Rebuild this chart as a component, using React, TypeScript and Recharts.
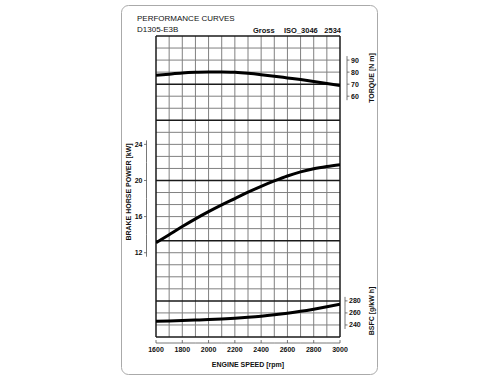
import React from 'react';
import { ComposedChart, Line, XAxis, YAxis, ReferenceLine } from 'recharts';

// engine speed samples [rpm]
const rpm = [1600, 1700, 1800, 1900, 2000, 2100, 2200, 2300, 2400, 2500, 2600, 2700, 2800, 2900, 3000];
// torque [N m]
const torque = [77.3, 78.3, 79.2, 79.8, 80.2, 80.2, 79.8, 79.0, 77.9, 76.6, 75.2, 73.8, 72.3, 70.6, 68.8];
// brake horse power [kW]
const power = [13.1, 14.0, 14.9, 15.75, 16.55, 17.3, 18.0, 18.7, 19.35, 19.95, 20.5, 20.95, 21.3, 21.55, 21.75];
// BSFC [g/kW h]
const bsfc = [246.2, 246.7, 247.3, 248.1, 249.0, 250.0, 251.2, 252.7, 254.5, 256.8, 259.5, 262.6, 266.2, 270.2, 274.5];

const rpmTicks = [1600, 1800, 2000, 2200, 2400, 2600, 2800, 3000];
const torqueTicks = [60, 70, 80, 90];
const powerTicks = [12, 16, 20, 24];
const bsfcTicks = [240, 260, 280];

// graph paper: one column per 100 rpm, 25 rows
const gridCols = [1600, 1700, 1800, 1900, 2000, 2100, 2200, 2300, 2400, 2500, 2600, 2700, 2800, 2900, 3000];
const gridRows = [0, 1, 2, 3, 4, 5, 6, 7, 8, 9, 10, 11, 12, 13, 14, 15, 16, 17, 18, 19, 20, 21, 22, 23, 24, 25];
const heavyRows = [0, 3, 8, 13, 18, 21, 25];
const heavyCols = [1600, 3000];

const data = rpm.map((r, i) => ({ rpm: r, torque: torque[i], power: power[i], bsfc: bsfc[i] }));

const FONT = '"Liberation Sans", Arial, sans-serif';
// axes get 1px each (a 0px axis is not drawn at all)
const MARGIN = { top: 36, right: 158, bottom: 46, left: 155 };
const PLOT_W = 184;
const PLOT_H = 301;
const CELL = PLOT_H / (gridRows.length - 1);
const INK = '#111';

// short bracket-style axis drawn next to the grid, one piece per tick
const sideTick = (side: 'left' | 'right', cells: number, shift = 0) => (props: any) => {
  const { x, y, payload, index, visibleTicksCount } = props;
  const half = (CELL * cells) / 2;
  const dir = side === 'right' ? 1 : -1;
  const lx = x + shift + dir * (side === 'right' ? 6 : 9.5);
  const bottom = index === 0 ? y + 4 : y + half;
  const top = index === visibleTicksCount - 1 ? y - 4 : y - half;
  return (
    <g>
      <line x1={lx} x2={lx} y1={bottom} y2={top} stroke="#555" strokeWidth={0.8} />
      <line x1={lx} x2={lx + dir * 2.5} y1={y} y2={y} stroke="#555" strokeWidth={0.8} />
      <text
        x={lx + dir * 4}
        y={y}
        dy="0.35em"
        textAnchor={side === 'right' ? 'start' : 'end'}
        fontSize={7}
        fontWeight="bold"
        fontFamily={FONT}
        fill={INK}
      >
        {payload.value}
      </text>
    </g>
  );
};

const SpeedTick = (props: any) => {
  const { x, y, payload, index, visibleTicksCount } = props;
  const half = PLOT_W / (rpmTicks.length - 1) / 2;
  const ay = y + 6;
  return (
    <g>
      <line
        x1={index === 0 ? x : x - half}
        x2={index === visibleTicksCount - 1 ? x : x + half}
        y1={ay}
        y2={ay}
        stroke="#555"
        strokeWidth={0.8}
      />
      <line x1={x} x2={x} y1={ay - 3} y2={ay} stroke="#555" strokeWidth={0.8} />
      <text x={x} y={y + 14.5} textAnchor="middle" fontSize={7} fontWeight="bold" fontFamily={FONT} fill={INK}>
        {payload.value}
      </text>
    </g>
  );
};

const TorqueTick = sideTick('right', 1);
const BsfcTick = sideTick('right', 1, -1);
const PowerTick = sideTick('left', 3);

const axisCommon = {
  axisLine: false,
  tickLine: false,
  tickSize: 0,
  tickMargin: 0,
  interval: 0 as const,
  type: 'number' as const,
  allowDataOverflow: true,
};

export default function App() {
  return (
    <div style={{ position: 'absolute', left: 0, top: 0, width: 500, height: 384, background: '#fff' }}>
      <svg width={500} height={384} style={{ position: 'absolute', left: 0, top: 0 }}>
        <rect x={121.5} y={5.5} width={256} height={369} rx={7} fill="none" stroke="#aaa" strokeWidth={1} />
        <g fontFamily={FONT} fill="#111">
          <text x={137} y={21} fontSize={8}>PERFORMANCE CURVES</text>
          <text x={137} y={31.5} fontSize={8}>D1305-E3B</text>
          <text x={253} y={33} fontSize={7.5} fontWeight="bold">Gross</text>
          <text x={284} y={33} fontSize={7.5} fontWeight="bold">ISO_3046</text>
          <text x={341} y={33} fontSize={7.5} fontWeight="bold" textAnchor="end">2534</text>
          <text x={248} y={366.5} fontSize={7} fontWeight="bold" textAnchor="middle">ENGINE SPEED [rpm]</text>
          <text transform="translate(131,192) rotate(-90)" fontSize={7} fontWeight="bold" textAnchor="middle">
            BRAKE HORSE POWER [kW]
          </text>
          <text transform="translate(374,78) rotate(-90)" fontSize={7} fontWeight="bold" textAnchor="middle">
            TORQUE [N m]
          </text>
          <text transform="translate(374,311) rotate(-90)" fontSize={7} fontWeight="bold" textAnchor="middle">
            BSFC [g/kW h]
          </text>
        </g>
      </svg>
      <div style={{ position: 'absolute', left: 0, top: 0 }}>
        <ComposedChart width={500} height={384} data={data} margin={MARGIN}>
          <XAxis dataKey="rpm" {...axisCommon} domain={[1600, 3000]} ticks={rpmTicks} height={1} tick={<SpeedTick />} />
          <YAxis yAxisId="grid" hide type="number" domain={[0, 25]} allowDataOverflow width={0} />
          <YAxis yAxisId="power" orientation="left" {...axisCommon} domain={[8 / 3, 36]} ticks={powerTicks} width={1} tick={<PowerTick />} />
          <YAxis yAxisId="torque" orientation="right" {...axisCommon} domain={[-140, 110]} ticks={torqueTicks} width={1} tick={<TorqueTick />} />
          <YAxis yAxisId="bsfc" orientation="right" {...axisCommon} domain={[220, 720]} ticks={bsfcTicks} width={1} tick={<BsfcTick />} />

          {gridCols.filter((c) => !heavyCols.includes(c)).map((c) => (
            <ReferenceLine key={'c' + c} x={c} yAxisId="grid" stroke="#808080" strokeWidth={1} />
          ))}
          {gridRows.filter((r) => !heavyRows.includes(r)).map((r) => (
            <ReferenceLine key={'r' + r} y={r} yAxisId="grid" stroke="#808080" strokeWidth={1} />
          ))}
          {heavyRows.map((r) => (
            <ReferenceLine key={'hr' + r} y={r} yAxisId="grid" stroke="#1a1a1a" strokeWidth={1.5} />
          ))}
          {heavyCols.map((c) => (
            <ReferenceLine key={'hc' + c} x={c} yAxisId="grid" stroke="#1a1a1a" strokeWidth={1.5} />
          ))}

          <Line yAxisId="torque" type="monotone" dataKey="torque" stroke="#000" strokeWidth={3} dot={false} isAnimationActive={false} />
          <Line yAxisId="power" type="monotone" dataKey="power" stroke="#000" strokeWidth={3} dot={false} isAnimationActive={false} />
          <Line yAxisId="bsfc" type="monotone" dataKey="bsfc" stroke="#000" strokeWidth={3} dot={false} isAnimationActive={false} />
        </ComposedChart>
      </div>
    </div>
  );
}
